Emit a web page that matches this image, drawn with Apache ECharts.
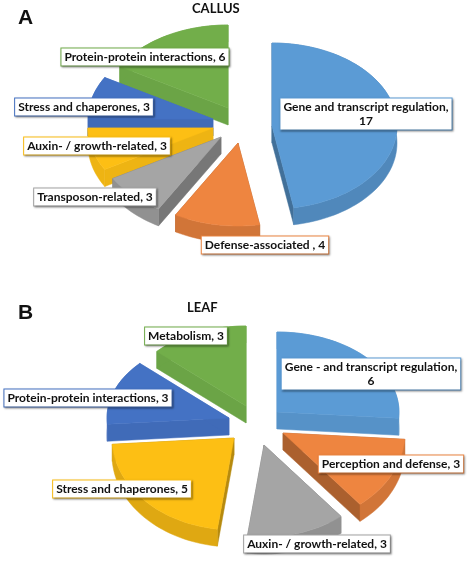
<!DOCTYPE html>
<html>
<head>
<meta charset="utf-8">
<title>Callus and leaf categories</title>
<style>
  html, body { margin: 0; padding: 0; background: #fff; }
  #chart { width: 472px; height: 563px; }
</style>
<script src="https://cdn.jsdelivr.net/npm/echarts@6/dist/echarts.min.js"></script>
</head>
<body>
<div id="chart"></div>
<script>
// values
const callusNames = ['Gene and transcript regulation', 'Defense-associated ', 'Transposon-related', 'Auxin- / growth-related', 'Stress and chaperones', 'Protein-protein interactions']
const callusValues = [17, 4, 3, 3, 3, 6]
const leafNames = ['Gene - and transcript regulation', 'Perception and defense', 'Auxin- / growth-related', 'Stress and chaperones', 'Protein-protein interactions', 'Metabolism']
const leafValues = [6, 3, 3, 5, 3, 3]

const colors = ['#5b9bd5', '#ee8540', '#a5a5a5', '#fdbf14', '#4472c4', '#72ae4a']
const font = 'Lato, "Open Sans", sans-serif'

// layout only: where each exploded slice has its tip, and where its label sits
const callusLayout = {
  rx: 125, ryBack: 83, ryFront: 83, wall: 17,
  tips: [[272, 126], [238, 143], [221, 137], [213, 128], [213, 119], [228, 108]],
  labels: [[366, 114], [265, 245], [95, 197], [97, 146], [84, 107], [145, 57]]
}
const leafLayout = {
  rx: 122, ryBack: 80, ryFront: 92, wall: 17,
  tips: [[277, 412], [283, 433], [264, 445], [234, 438], [229, 418], [246, 406]],
  labels: [[371, 374], [391, 464], [317, 544], [122, 489], [88, 398], [186, 336]]
}

function shade(color, k) {
  const c = echarts.color.parse(color)
  return 'rgb(' + Math.round(c[0] * k) + ',' + Math.round(c[1] * k) + ',' + Math.round(c[2] * k) + ')'
}

function slicePoint(tip, layout, deg, drop) {
  const a = deg * Math.PI / 180
  const ry = Math.cos(a) > 0 ? layout.ryBack : layout.ryFront
  return [tip[0] + layout.rx * Math.sin(a), tip[1] - ry * Math.cos(a) + drop]
}

function poly(points, fill, z2) {
  return { type: 'polygon', z2: z2, shape: { points: points }, style: { fill: fill, stroke: fill, lineWidth: 0.5 } }
}

function pieSeries(names, values, layout) {
  const total = values.reduce((a, b) => a + b, 0)
  return {
    type: 'custom',
    coordinateSystem: 'none',
    silent: true,
    data: values.map((v, i) => ({ name: names[i], value: v })),
    renderItem(params, api) {
      const i = params.dataIndex
      const start = values.slice(0, i).reduce((a, b) => a + b, 0) / total * 360
      const end = start + api.value(0) / total * 360
      const mid = (start + end) / 2
      const tip = layout.tips[i]
      const z = Math.round(slicePoint(tip, layout, mid, 0)[1])

      const arc = []
      const arcLow = []
      for (let d = start; d < end; d += 2) {
        arc.push(slicePoint(tip, layout, d, 0))
        arcLow.unshift(slicePoint(tip, layout, d, layout.wall))
      }
      arc.push(slicePoint(tip, layout, end, 0))
      arcLow.unshift(slicePoint(tip, layout, end, layout.wall))

      // walls of the back slices barely differ from the top face
      const lit = mid >= 230 || mid <= 60
      const below = [tip[0], tip[1] + layout.wall]
      const radialColor = shade(colors[i], lit ? 0.94 : 0.72)
      const children = [
        // radial walls first, the outer wall over them, the top face last
        poly([tip, below, slicePoint(tip, layout, start, layout.wall), slicePoint(tip, layout, start, 0)], radialColor, z),
        poly([tip, below, slicePoint(tip, layout, end, layout.wall), slicePoint(tip, layout, end, 0)], radialColor, z),
        poly(arc.concat(arcLow), shade(colors[i], lit ? 0.94 : 0.88), z),
        poly([tip].concat(arc), colors[i], z + 1)
      ]

      const sep = names[i].startsWith('Gene') ? ',\n' : ', '
      children.push({
        type: 'text',
        z2: 2000,
        x: layout.labels[i][0],
        y: layout.labels[i][1],
        style: {
          text: names[i] + sep + api.value(0),
          font: 'bold 12px ' + font,
          fill: '#111',
          align: 'center',
          verticalAlign: 'middle',
          lineHeight: 14,
          padding: [2, 3, 1, 3],
          backgroundColor: '#fff',
          borderColor: colors[i],
          borderWidth: 1,
          shadowColor: 'rgba(0,0,0,0.3)',
          shadowBlur: 2,
          shadowOffsetX: 1,
          shadowOffsetY: 1
        }
      })
      return { type: 'group', children: children }
    }
  }
}

const chart = echarts.init(document.getElementById('chart'))
const titleStyle = { fontFamily: font, fontWeight: 'bold', fontSize: 13, color: '#111' }
const panelStyle = { fontFamily: 'Liberation Sans, sans-serif', fontWeight: 'bold', fontSize: 21, color: '#111' }
chart.setOption({
  backgroundColor: '#ffffff',
  animation: false,
  title: [
    { text: 'CALLUS', left: 187, top: -3, textStyle: titleStyle },
    { text: 'LEAF', left: 182, top: 296, textStyle: titleStyle },
    { text: 'A', left: 18, top: 8, padding: 0, textStyle: panelStyle },
    { text: 'B', left: 18, top: 303, padding: 0, textStyle: panelStyle }
  ],
  series: [
    pieSeries(callusNames, callusValues, callusLayout),
    pieSeries(leafNames, leafValues, leafLayout)
  ]
})
</script>
</body>
</html>
